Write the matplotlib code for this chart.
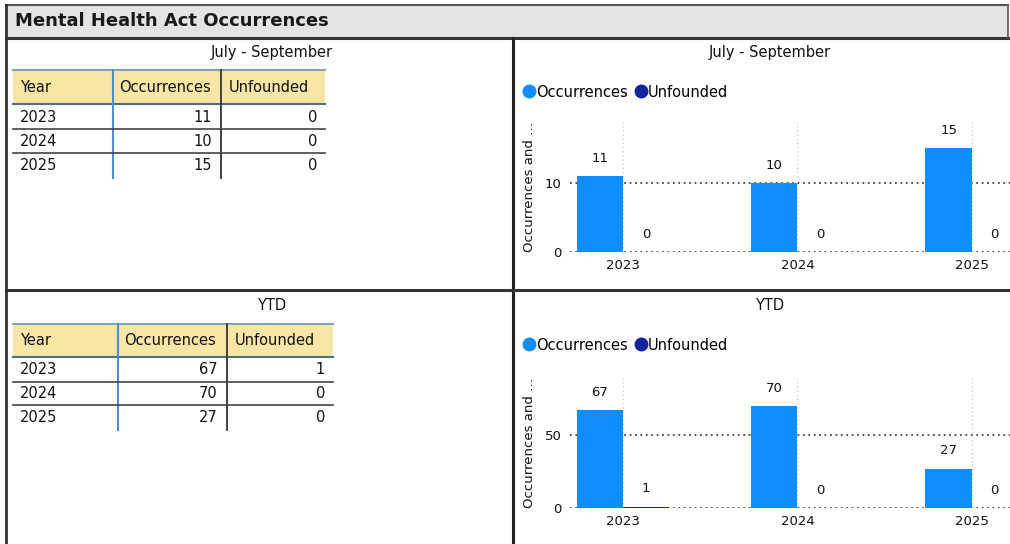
import numpy as np
import matplotlib.pyplot as plt
from matplotlib.lines import Line2D
from matplotlib.patches import Rectangle

# data
years = ["2023", "2024", "2025"]
q_occ = [11, 10, 15]
q_unf = [0, 0, 0]
ytd_occ = [67, 70, 27]
ytd_unf = [1, 0, 0]
col_names = ["Year", "Occurrences", "Unfounded"]

OCC_C = "#118dff"
UNF_C = "#12239e"
W, H = 1010, 544

fig = plt.figure(figsize=(W / 100, H / 100), dpi=100)
bg = fig.add_axes([0, 0, 1, 1])
bg.set_xlim(0, W)
bg.set_ylim(H, 0)
bg.axis("off")

# title bar and panel frames
bg.add_patch(Rectangle((6, 5), 1002, 33, facecolor="#e4e4e4", edgecolor="none"))
bg.plot([6, 1008], [5, 5], color="#555", lw=1.5)
bg.plot([6, 1008], [38, 38], color="#333", lw=2.2)
bg.plot([6, 6], [5, H], color="#333", lw=2)
bg.plot([1008, 1008], [5, 38], color="#555", lw=1.2)
bg.plot([513, 513], [38, H], color="#222", lw=2.2)
bg.plot([6, W], [290, 290], color="#333", lw=2.2)
bg.text(15, 21, "Mental Health Act Occurrences", fontsize=13, fontweight="bold",
        va="center", ha="left", color="#1a1a1a")


def draw_table(title, ty, x0, x1, c1, c2, hy0, hy1, row_y, sep_y, occ, unf):
    bg.text(272, ty, title, fontsize=10.5, ha="center", va="center", color="#111")
    bg.add_patch(Rectangle((x0, hy0), x1 - x0, hy1 - hy0, facecolor="#f8e6a6", edgecolor="none"))
    bg.plot([x0, x1], [hy0, hy0], color="#7fa6bd", lw=1.5)
    bg.plot([x0, x1], [hy1, hy1], color="#4b6f80", lw=1.5)
    hmid = (hy0 + hy1) / 2
    bg.text(x0 + 7, hmid, col_names[0], fontsize=10.5, va="center", color="#111")
    bg.text(c1 + 6, hmid, col_names[1], fontsize=10.5, va="center", color="#111")
    bg.text(c2 + 8, hmid, col_names[2], fontsize=10.5, va="center", color="#111")
    bottom = row_y[-1] + 13
    bg.plot([c1, c1], [hy0, bottom], color="#4f8fc9", lw=1.5)
    bg.plot([c2, c2], [hy0, bottom], color="#333", lw=1.3)
    for s in sep_y:
        bg.plot([x0, x1], [s, s], color="#444", lw=1.2)
    for i, y in enumerate(row_y):
        bg.text(x0 + 7, y, years[i], fontsize=10.5, va="center", color="#111")
        bg.text(c2 - 9, y, str(occ[i]), fontsize=10.5, va="center", ha="right", color="#111")
        bg.text(x1 - 8, y, str(unf[i]), fontsize=10.5, va="center", ha="right", color="#111")


draw_table("July - September", 53, 13, 325, 113, 221, 70, 104,
           [118, 141, 165], [129, 153], q_occ, q_unf)
draw_table("YTD", 305, 13, 333, 118, 227, 324, 357,
           [370, 393, 417], [382, 405], ytd_occ, ytd_unf)


def draw_chart(title, top, bottom, ymax, ticks, occ, unf, ty, ly):
    ax = fig.add_axes([570 / W, 1 - bottom / H, (W - 570) / W, (bottom - top) / H])
    x = np.arange(len(years))
    w = 0.265
    b1 = ax.bar(x - w / 2, occ, w, color=OCC_C, zorder=3)
    b2 = ax.bar(x + w / 2, unf, w, color=UNF_C, zorder=3)
    ax.bar_label(b1, padding=8, fontsize=9.5, color="#111")
    ax.bar_label(b2, padding=8, fontsize=9.5, color="#111")
    ax.set_xlim(-0.305, 2.22)
    ax.set_ylim(0, ymax)
    ax.set_yticks(ticks)
    ax.set_xticks(x)
    ax.set_xticklabels(years)
    ax.tick_params(length=0, labelsize=9.5, colors="#111")
    ax.tick_params(axis="x", pad=5)
    ax.tick_params(axis="y", pad=6)
    for t in ticks:
        ax.axhline(t, color="#444", lw=1.3, ls=(0, (1, 2)), zorder=2)
    for xi in x:
        ax.axvline(xi, color="#cfcfcf", lw=1, ls=(0, (1, 2)), zorder=1)
    for s in ax.spines.values():
        s.set_visible(False)
    ax.set_facecolor("none")
    ax.set_ylabel("Occurrences and …", fontsize=9.5, color="#111", labelpad=6)
    bg.text(770, ty, title, fontsize=10.5, ha="center", va="center", color="#111")
    handles = [Line2D([], [], marker="o", ls="none", color=OCC_C, markersize=9),
               Line2D([], [], marker="o", ls="none", color=UNF_C, markersize=9)]
    ax.legend(handles, ["Occurrences", "Unfounded"], loc="center left",
              bbox_to_anchor=(524 / W, 1 - ly / H), bbox_transform=fig.transFigure,
              ncol=2, frameon=False, handlelength=0.7, handletextpad=0.15,
              columnspacing=0.5, borderpad=0, borderaxespad=0, fontsize=10.5)


draw_chart("July - September", 122, 252, 18.8, [0, 10], q_occ, q_unf, 52, 92)
draw_chart("YTD", 378, 508, 89, [0, 50], ytd_occ, ytd_unf, 305, 345)

fig.savefig("out.png", dpi=100)
